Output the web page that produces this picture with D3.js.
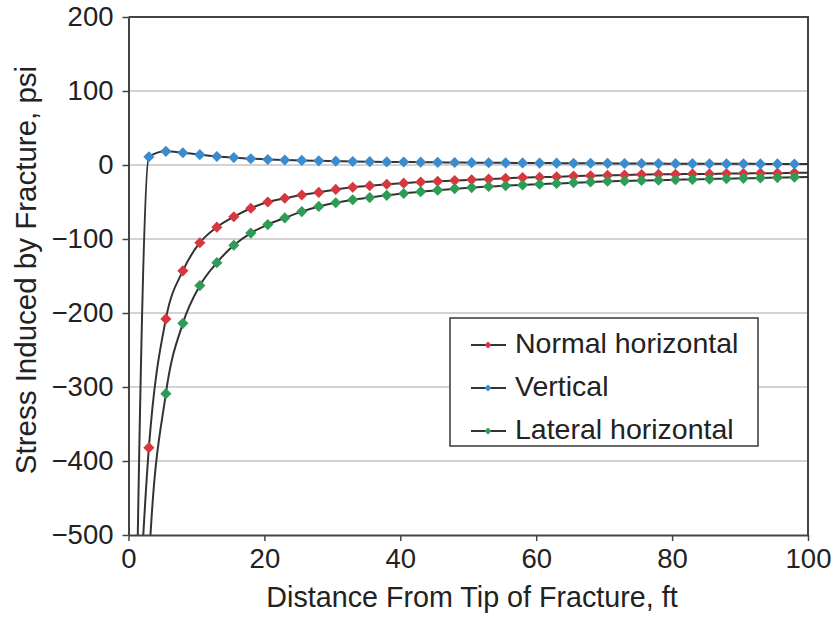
<!DOCTYPE html>
<html>
<head>
<meta charset="utf-8">
<script src="https://cdn.jsdelivr.net/npm/d3@7"></script>
<style>
  body { margin: 0; background: #fff; }
  svg text { font-family: "Liberation Sans", Arial, Helvetica, sans-serif; fill: #222; }
</style>
</head>
<body>
<svg id="chart" width="838" height="620"></svg>
<script>
// Distance from the fracture tip, ft
const distance = [0.5, 3, 5.5, 8, 10.5, 13, 15.5, 18, 20.5, 23, 25.5, 28, 30.5, 33, 35.5, 38, 40.5,
  43, 45.5, 48, 50.5, 53, 55.5, 58, 60.5, 63, 65.5, 68, 70.5, 73, 75.5, 78, 80.5, 83, 85.5, 88,
  90.5, 93, 95.5, 98, 100.5];

// Induced stress, psi
const normalHorizontal = [-800, -382, -208, -143, -105, -84, -70, -58.5, -50, -45, -40.5, -37, -33,
  -30, -28, -26, -24.5, -23, -22, -21, -20, -19, -18, -17, -16.5, -16, -15, -14.5, -14, -13.5, -13,
  -12.5, -12.5, -12, -12, -11.5, -11.5, -11, -11, -10.5, -10.5];
const vertical = [-1000, 11, 18.5, 16.5, 14, 11.5, 10, 8.5, 7.5, 6.8, 6.2, 5.6, 5.2, 4.8, 4.5, 4.2,
  4, 3.8, 3.6, 3.4, 3.2, 3, 2.9, 2.8, 2.6, 2.5, 2.4, 2.3, 2.2, 2.1, 2, 1.9, 1.8, 1.8, 1.7, 1.6, 1.6,
  1.5, 1.5, 1.4, 1.4];
const lateralHorizontal = [-2000, -540, -309, -214, -163, -132, -108.5, -92, -80.5, -71.5, -63, -56,
  -51, -47, -44, -41, -38.5, -36, -34, -32, -30.5, -29, -28, -27, -26, -25, -24, -23, -22, -21.5,
  -21, -20.5, -20, -19.5, -19, -18.5, -18, -17.5, -17, -16.5, -16];

const seriesNames = ["Normal horizontal", "Vertical", "Lateral horizontal"];
const seriesColors = ["#d8373f", "#3a8ccf", "#2e9c55"];
const seriesValues = [normalHorizontal, vertical, lateralHorizontal];

const xTicks = [0, 20, 40, 60, 80, 100];
const yTicks = [200, 100, 0, -100, -200, -300, -400, -500];

const xTitle = "Distance From Tip of Fracture, ft";
const yTitle = "Stress Induced by Fracture, psi";

const svg = d3.select("#chart");
const L = 128.5, R = 808, T = 17, B = 535;

const x = d3.scaleLinear().domain([0, 100]).range([L, R]);
const y = d3.scaleLinear().domain([-500, 200]).range([B, T]);

svg.append("defs").append("clipPath").attr("id", "plotArea")
  .append("rect").attr("x", L).attr("y", T).attr("width", R - L).attr("height", B - T);

// horizontal gridlines
svg.append("g")
  .selectAll("line")
  .data(yTicks.filter(v => v > -500 && v < 200))
  .join("line")
  .attr("x1", L).attr("x2", R)
  .attr("y1", d => y(d)).attr("y2", d => y(d))
  .attr("stroke", "#c4c4c4").attr("stroke-width", 1.6);

// plot frame: top and right edges
svg.append("path")
  .attr("d", `M${L},${T}H${R}V${B}`)
  .attr("fill", "none").attr("stroke", "#444").attr("stroke-width", 2);

const fmt = d => d < 0 ? "\u2212" + Math.abs(d) : String(d);

const yAxis = svg.append("g")
  .attr("transform", `translate(${L},0)`)
  .call(d3.axisLeft(y).tickValues(yTicks).tickSize(6).tickSizeOuter(0).tickPadding(9).tickFormat(fmt));
const xAxis = svg.append("g")
  .attr("transform", `translate(0,${B})`)
  .call(d3.axisBottom(x).tickValues(xTicks).tickSize(6).tickSizeOuter(0).tickPadding(7).tickFormat(fmt));

[xAxis, yAxis].forEach(g => {
  g.select(".domain").attr("stroke", "#444").attr("stroke-width", 2);
  g.selectAll(".tick line").attr("stroke", "#444").attr("stroke-width", 1.5);
  g.selectAll(".tick text").attr("font-size", 27.5).attr("fill", "#222")
    .attr("font-family", "'Liberation Sans', Arial, sans-serif");
});

// smoothed series lines and diamond markers
const line = d3.line().curve(d3.curveMonotoneX).x(d => x(d[0])).y(d => y(d[1]));
const diamond = d3.symbol().type(d3.symbolSquare).size(62);

const plot = svg.append("g").attr("clip-path", "url(#plotArea)");
seriesValues.forEach((vals, i) => {
  const pts = distance.map((d, j) => [d, vals[j]]);
  plot.append("path")
    .datum(pts)
    .attr("d", line)
    .attr("fill", "none")
    .attr("stroke", "#333")
    .attr("stroke-width", 2);
});
seriesValues.forEach((vals, i) => {
  const pts = distance.map((d, j) => [d, vals[j]])
    .filter(p => p[0] >= 0 && p[0] <= 100 && p[1] >= -500 && p[1] <= 200);
  svg.append("g")
    .selectAll("path")
    .data(pts)
    .join("path")
    .attr("d", diamond)
    .attr("transform", d => `translate(${x(d[0])},${y(d[1])}) rotate(45)`)
    .attr("fill", seriesColors[i]);
});

// axis titles
svg.append("text")
  .attr("x", 472).attr("y", 607)
  .attr("text-anchor", "middle")
  .attr("font-size", 28.7)
  .text(xTitle);
svg.append("text")
  .attr("transform", "translate(36,270) rotate(-90)")
  .attr("text-anchor", "middle")
  .attr("font-size", 29.5)
  .text(yTitle);

// legend
const lg = svg.append("g");
lg.append("rect")
  .attr("x", 450).attr("y", 318).attr("width", 308).attr("height", 128)
  .attr("fill", "#fff").attr("stroke", "#444").attr("stroke-width", 1.6);
const smallDiamond = d3.symbol().type(d3.symbolSquare).size(24);
seriesNames.forEach((name, i) => {
  const base = 353 + i * 43;
  const ly = base - 8;
  lg.append("line")
    .attr("x1", 471).attr("x2", 506).attr("y1", ly).attr("y2", ly)
    .attr("stroke", "#333").attr("stroke-width", 2);
  lg.append("path")
    .attr("d", smallDiamond)
    .attr("transform", `translate(488,${ly}) rotate(45)`)
    .attr("fill", seriesColors[i]);
  lg.append("text")
    .attr("x", 515).attr("y", base)
    .attr("font-size", 28.5)
    .text(name);
});
</script>
</body>
</html>
